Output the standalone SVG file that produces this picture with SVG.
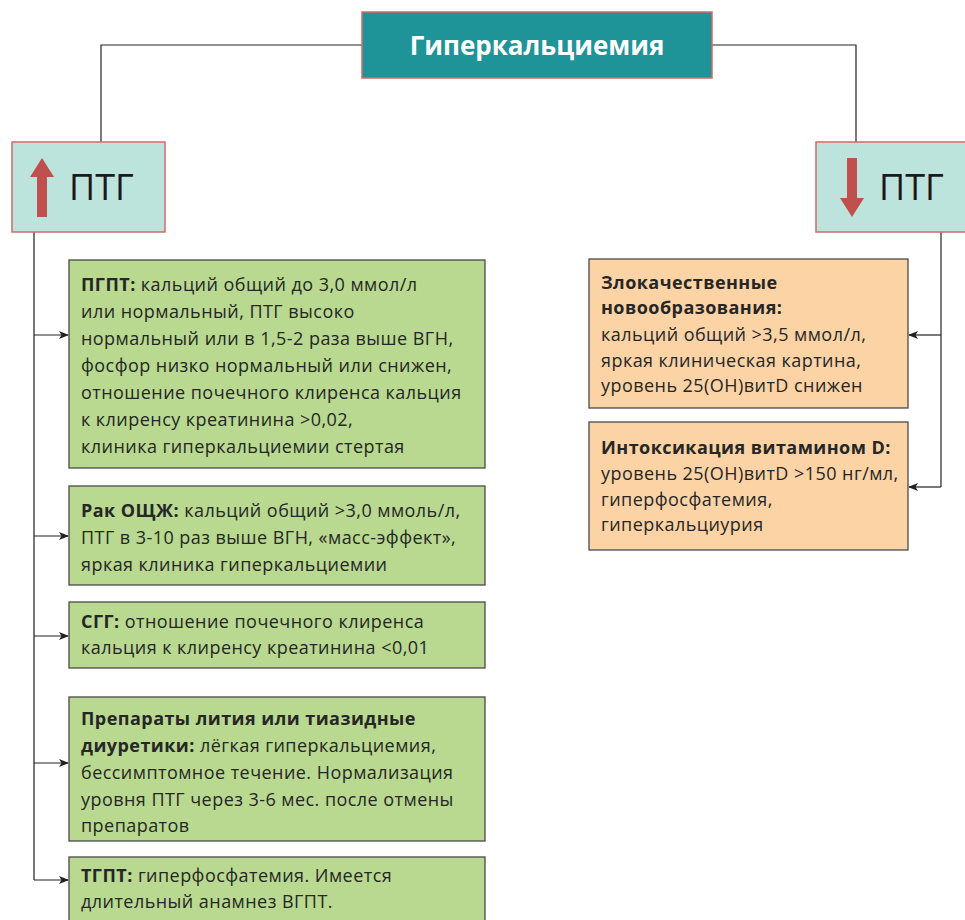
<svg xmlns="http://www.w3.org/2000/svg" width="965" height="920" viewBox="0 0 965 920">
<defs>
<style>
.t{font-family:"Open Sans","Noto Sans",sans-serif;font-size:18px;letter-spacing:0.45px;fill:#262626}
.b{font-weight:bold}
.g{fill:#b8d98f;stroke:#4a4a4a;stroke-width:1.3}
.o{fill:#fbd3a5;stroke:#4a4a4a;stroke-width:1.3}
.p{fill:#bce3dc;stroke:#d36a6a;stroke-width:1.5}
.c{fill:none;stroke:#222;stroke-width:1.2}
.c2{fill:none;stroke:#555;stroke-width:1.6}
</style>
<marker id="ah" markerWidth="10" markerHeight="8" refX="9" refY="4" orient="auto" markerUnits="userSpaceOnUse">
<path d="M0,0 L10,4 L0,8 L2.5,4 Z" fill="#222"/>
</marker>
</defs>
<rect width="965" height="920" fill="#fff"/>
<g id="connectors">
<path class="c" d="M362,45 H101 V142"/>
<path class="c" d="M712,45 H856 V142"/>
<path class="c2" d="M34,232 V880"/>
<path class="c" d="M34,335 H68" marker-end="url(#ah)"/>
<path class="c" d="M34,536 H68" marker-end="url(#ah)"/>
<path class="c" d="M34,636 H68" marker-end="url(#ah)"/>
<path class="c" d="M34,763 H68" marker-end="url(#ah)"/>
<path class="c" d="M34,880 H68" marker-end="url(#ah)"/>
<path class="c" d="M941,232 V487"/>
<path class="c" d="M941,335 H909" marker-end="url(#ah)"/>
<path class="c" d="M941,487 H909" marker-end="url(#ah)"/>
</g>
<g id="title">
<rect x="362" y="12" width="350" height="66" fill="#1e9398" stroke="#d36a6a" stroke-width="1.5"/>
<text x="537" y="55" text-anchor="middle" font-family="'Open Sans','Noto Sans',sans-serif" font-size="26" font-weight="bold" fill="#fff">Гиперкальциемия</text>
</g>
<g id="ptg-up">
<rect class="p" x="12" y="142" width="153" height="90"/>
<path d="M37,217 V177 H30 L42,158 L54,177 H47 V217 Z" fill="#c0504d"/>
<text x="69" y="200" font-family="'Open Sans','Noto Sans',sans-serif" font-size="36" fill="#1a1a1a">ПТГ</text>
</g>
<g id="ptg-down">
<rect class="p" x="816" y="142" width="160" height="90"/>
<path d="M847,158 V198 H840 L852,217 L864,198 H857 V158 Z" fill="#c0504d"/>
<text x="879" y="200" font-family="'Open Sans','Noto Sans',sans-serif" font-size="36" fill="#1a1a1a">ПТГ</text>
</g>
<g id="pgpt">
<rect class="g" x="69" y="260" width="416" height="208"/>
<text class="t" x="81" y="291"><tspan class="b">ПГПТ:</tspan> кальций общий до 3,0 ммол/л</text>
<text class="t" x="81" y="318">или нормальный, ПТГ высоко</text>
<text class="t" x="81" y="345">нормальный или в 1,5-2 раза выше ВГН,</text>
<text class="t" x="81" y="372">фосфор низко нормальный или снижен,</text>
<text class="t" x="81" y="399">отношение почечного клиренса кальция</text>
<text class="t" x="81" y="426">к клиренсу креатинина &gt;0,02,</text>
<text class="t" x="81" y="453">клиника гиперкальциемии стертая</text>
</g>
<g id="rak">
<rect class="g" x="69" y="486" width="416" height="99"/>
<text class="t" x="81" y="517"><tspan class="b">Рак ОЩЖ:</tspan> кальций общий &gt;3,0 ммоль/л,</text>
<text class="t" x="81" y="544">ПТГ в 3-10 раз выше ВГН, «масс-эффект»,</text>
<text class="t" x="81" y="571">яркая клиника гиперкальциемии</text>
</g>
<g id="sgg">
<rect class="g" x="69" y="602" width="416" height="66"/>
<text class="t" x="81" y="628"><tspan class="b">СГГ:</tspan> отношение почечного клиренса</text>
<text class="t" x="81" y="654">кальция к клиренсу креатинина &lt;0,01</text>
</g>
<g id="lithium">
<rect class="g" x="69" y="697" width="416" height="144"/>
<text class="t b" x="81" y="725">Препараты лития или тиазидные</text>
<text class="t" x="81" y="752"><tspan class="b">диуретики:</tspan> лёгкая гиперкальциемия,</text>
<text class="t" x="81" y="779">бессимптомное течение. Нормализация</text>
<text class="t" x="81" y="806">уровня ПТГ через 3-6 мес. после отмены</text>
<text class="t" x="81" y="832">препаратов</text>
</g>
<g id="tgpt">
<rect class="g" x="69" y="857" width="416" height="70"/>
<text class="t" x="81" y="882"><tspan class="b">ТГПТ:</tspan> гиперфосфатемия. Имеется</text>
<text class="t" x="81" y="908">длительный анамнез ВГПТ.</text>
</g>
<g id="malignant">
<rect class="o" x="589" y="259" width="319" height="149"/>
<text class="t b" x="601" y="289">Злокачественные</text>
<text class="t b" x="601" y="314">новообразования:</text>
<text class="t" x="601" y="341">кальций общий &gt;3,5 ммол/л,</text>
<text class="t" x="601" y="367">яркая клиническая картина,</text>
<text class="t" x="601" y="392">уровень 25(ОН)витD снижен</text>
</g>
<g id="vitd">
<rect class="o" x="589" y="422" width="319" height="128"/>
<text class="t" x="601" y="454"><tspan class="b">Интоксикация витамином D:</tspan></text>
<text class="t" x="601" y="480">уровень 25(ОН)витD &gt;150 нг/мл,</text>
<text class="t" x="601" y="506">гиперфосфатемия,</text>
<text class="t" x="601" y="531">гиперкальциурия</text>
</g>
</svg>
